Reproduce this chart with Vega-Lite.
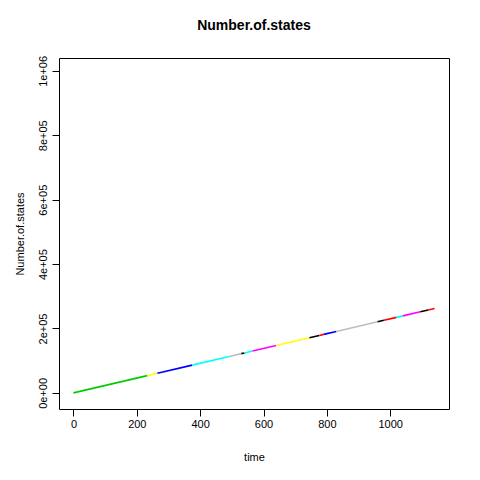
{
  "$schema": "https://vega.github.io/schema/vega-lite/v6.json",
  "width": 390,
  "height": 351,
  "autosize": "none",
  "padding": {"left": 59, "top": 58, "right": 31, "bottom": 71},
  "title": {"text": "Number.of.states", "font": "Liberation Sans", "fontSize": 14, "fontWeight": "bold", "offset": 22},
  "config": {
    "view": {"stroke": "black", "strokeWidth": 1},
    "axis": {"domain": false, "grid": false, "tickColor": "black", "tickSize": 7, "labelFont": "Liberation Sans", "labelFontSize": 11, "labelColor": "black", "titleFont": "Liberation Sans", "titleFontSize": 11, "titleFontWeight": "normal", "titleColor": "black"}
  },
  "data": {"values": [
    {"seg": 1, "col": "green", "time": 0, "states": 0},
    {"seg": 1, "col": "green", "time": 233, "states": 53590},
    {"seg": 2, "col": "yellow", "time": 233, "states": 53590},
    {"seg": 2, "col": "yellow", "time": 265, "states": 60950},
    {"seg": 3, "col": "blue", "time": 265, "states": 60950},
    {"seg": 3, "col": "blue", "time": 375, "states": 86250},
    {"seg": 4, "col": "cyan", "time": 375, "states": 86250},
    {"seg": 4, "col": "cyan", "time": 492, "states": 113160},
    {"seg": 5, "col": "gray", "time": 492, "states": 113160},
    {"seg": 5, "col": "gray", "time": 530, "states": 121900},
    {"seg": 6, "col": "black", "time": 530, "states": 121900},
    {"seg": 6, "col": "black", "time": 540, "states": 124200},
    {"seg": 7, "col": "cyan", "time": 540, "states": 124200},
    {"seg": 7, "col": "cyan", "time": 565, "states": 129950},
    {"seg": 8, "col": "magenta", "time": 565, "states": 129950},
    {"seg": 8, "col": "magenta", "time": 640, "states": 147200},
    {"seg": 9, "col": "yellow", "time": 640, "states": 147200},
    {"seg": 9, "col": "yellow", "time": 745, "states": 171350},
    {"seg": 10, "col": "black", "time": 745, "states": 171350},
    {"seg": 10, "col": "black", "time": 776, "states": 178480},
    {"seg": 11, "col": "red", "time": 776, "states": 178480},
    {"seg": 11, "col": "red", "time": 790, "states": 181700},
    {"seg": 12, "col": "blue", "time": 790, "states": 181700},
    {"seg": 12, "col": "blue", "time": 830, "states": 190900},
    {"seg": 13, "col": "gray", "time": 830, "states": 190900},
    {"seg": 13, "col": "gray", "time": 960, "states": 220800},
    {"seg": 14, "col": "black", "time": 960, "states": 220800},
    {"seg": 14, "col": "black", "time": 980, "states": 225400},
    {"seg": 15, "col": "red", "time": 980, "states": 225400},
    {"seg": 15, "col": "red", "time": 1020, "states": 234600},
    {"seg": 16, "col": "cyan", "time": 1020, "states": 234600},
    {"seg": 16, "col": "cyan", "time": 1040, "states": 239200},
    {"seg": 17, "col": "magenta", "time": 1040, "states": 239200},
    {"seg": 17, "col": "magenta", "time": 1095, "states": 251850},
    {"seg": 18, "col": "black", "time": 1095, "states": 251850},
    {"seg": 18, "col": "black", "time": 1120, "states": 257600},
    {"seg": 19, "col": "red", "time": 1120, "states": 257600},
    {"seg": 19, "col": "red", "time": 1140, "states": 262200}
  ]},
  "mark": {"type": "line", "strokeWidth": 1.6},
  "encoding": {
    "x": {"field": "time", "type": "quantitative", "title": "time", "scale": {"domain": [-45.6, 1185.6], "nice": false, "zero": false}, "axis": {"values": [0, 200, 400, 600, 800, 1000], "format": "d", "titlePadding": 22}},
    "y": {"field": "states", "type": "quantitative", "title": "Number.of.states", "scale": {"domain": [-50000, 1040000], "nice": false}, "axis": {"values": [0, 200000, 400000, 600000, 800000, 1000000], "labelExpr": "['0e+00','2e+05','4e+05','6e+05','8e+05','1e+06'][datum.value/200000]", "labelAngle": -90, "labelAlign": "center", "labelBaseline": "bottom", "labelPadding": 4, "titlePadding": 12}},
    "detail": {"field": "seg", "type": "nominal"},
    "order": {"field": "time", "type": "quantitative"},
    "color": {"field": "col", "type": "nominal", "legend": null, "scale": {"domain": ["black", "red", "green", "blue", "cyan", "magenta", "yellow", "gray"], "range": ["#000000", "#FF0000", "#00CD00", "#0000FF", "#00FFFF", "#FF00FF", "#FFFF00", "#BEBEBE"]}}
  }
}
